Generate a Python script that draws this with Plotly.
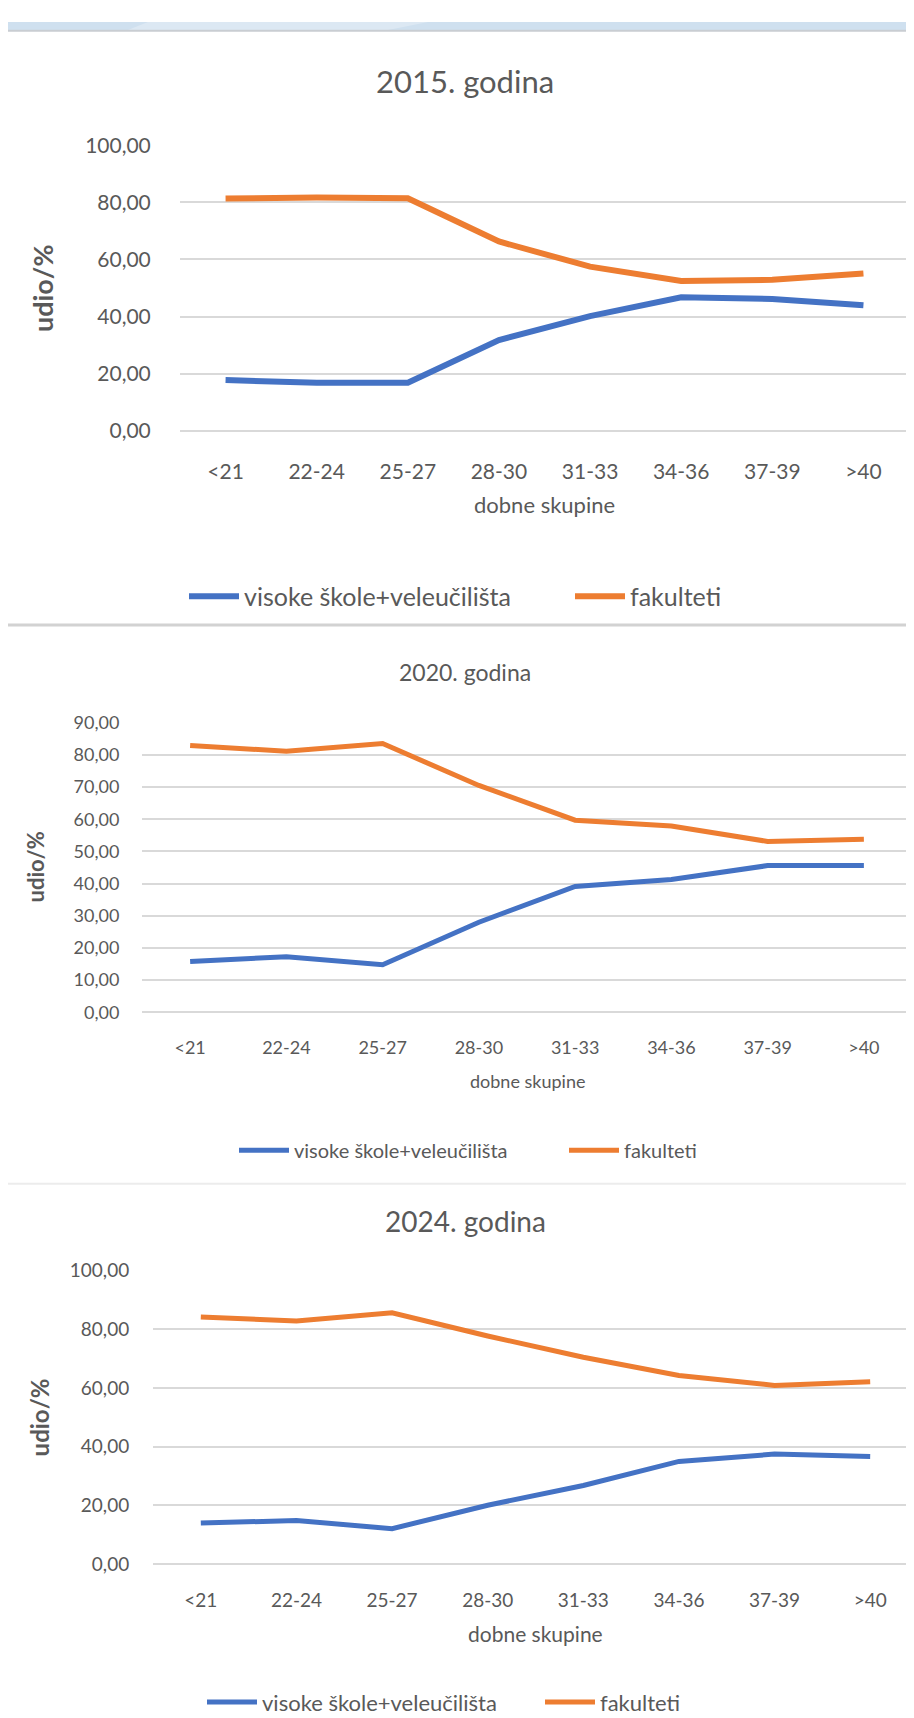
import plotly.graph_objects as go

W, H = 914, 1718

categories = ["<21", "22-24", "25-27", "28-30", "31-33", "34-36", "37-39", ">40"]
chart_titles = ["2015. godina", "2020. godina", "2024. godina"]
series_names = ["visoke škole+veleučilišta", "fakulteti"]
x_title = "dobne skupine"
y_title = "udio/%"

visoke_2015 = [17.8, 16.9, 16.9, 31.8, 40.2, 46.8, 46.2, 44.0]
fakulteti_2015 = [81.3, 81.7, 81.4, 66.3, 57.5, 52.5, 52.9, 55.1]
visoke_2020 = [15.8, 17.3, 14.8, 28.0, 39.1, 41.3, 45.6, 45.6]
fakulteti_2020 = [82.9, 81.1, 83.5, 70.5, 59.7, 57.9, 53.1, 53.8]
visoke_2024 = [14.0, 14.9, 12.1, 20.1, 26.8, 35.0, 37.5, 36.7]
fakulteti_2024 = [84.2, 82.8, 85.6, 77.7, 70.5, 64.3, 60.9, 62.1]

y_max = [100, 90, 100]
y_step = [20, 10, 20]

BLUE = "#4472C4"
ORANGE = "#ED7D31"
TEXT = "#595959"
GRID = "#d9d9d9"
FONT = "Lato"

# layout geometry in pixels
panels = [
    dict(x0=172, x1=901, y0=125, y1=415, title_y=60, title_size=31, tick_size=21,
         xt_size=22, xt_y=490, yt_x=34, yt_size=27, xticklen=22, yticklen=24, lw=6,
         leg_y=583, leg1_x=176, leg2_x=562, leg_size=25),
    dict(x0=134, x1=904, y0=711, y1=1005, title_y=660, title_size=23, tick_size=18,
         xt_size=18, xt_y=1075, yt_x=28, yt_size=22, xticklen=19, yticklen=18, lw=5,
         leg_y=1145, leg1_x=226, leg2_x=556, leg_size=20),
    dict(x0=145, x1=910, y0=1267, y1=1565, title_y=1217, title_size=28, tick_size=19,
         xt_size=21, xt_y=1635, yt_x=31, yt_size=24, xticklen=19, yticklen=19, lw=5,
         leg_y=1705, leg1_x=194, leg2_x=532, leg_size=22),
]

data = [(visoke_2015, fakulteti_2015), (visoke_2020, fakulteti_2020), (visoke_2024, fakulteti_2024)]


def px(x):
    return x / W


def py(y):
    return 1 - y / H


fig = go.Figure()
annotations = []
shapes = []
layout_extra = {}

for i, (p, (vis, fak)) in enumerate(zip(panels, data)):
    n = i + 1
    xa = "x" if n == 1 else f"x{n}"
    ya = "y" if n == 1 else f"y{n}"
    leg_a = "legend" if n == 1 else f"legend{2 * n - 1}"
    leg_b = f"legend{2 * n}"
    fig.add_trace(go.Scatter(x=categories, y=vis, mode="lines", name=series_names[0],
                             line=dict(color=BLUE, width=p["lw"]), xaxis=xa, yaxis=ya,
                             legend=leg_a, hoverinfo="skip"))
    fig.add_trace(go.Scatter(x=categories, y=fak, mode="lines", name=series_names[1],
                             line=dict(color=ORANGE, width=p["lw"]), xaxis=xa, yaxis=ya,
                             legend=leg_b, hoverinfo="skip"))
    xkey = "xaxis" if n == 1 else f"xaxis{n}"
    ykey = "yaxis" if n == 1 else f"yaxis{n}"
    layout_extra[xkey] = dict(
        domain=[px(p["x0"]), px(p["x1"])], anchor=ya, type="category",
        categoryorder="array", categoryarray=categories, range=[-0.5, len(categories) - 0.5],
        showgrid=False, zeroline=False, showline=False, ticks="outside",
        ticklen=p["xticklen"], tickcolor="rgba(0,0,0,0)",
        tickfont=dict(family=FONT, size=p["tick_size"], color=TEXT), fixedrange=True)
    layout_extra[ykey] = dict(
        domain=[py(p["y1"]), py(p["y0"])], anchor=xa, range=[0, y_max[i]],
        tick0=0, dtick=y_step[i], tickformat=".2f", showgrid=True, gridcolor=GRID,
        gridwidth=1.6, zeroline=True, zerolinecolor=GRID, zerolinewidth=1.6,
        showline=False, ticks="outside", ticklen=p["yticklen"], tickcolor="rgba(0,0,0,0)",
        tickfont=dict(family=FONT, size=p["tick_size"], color=TEXT), fixedrange=True)
    for lk, lx in ((leg_a, p["leg1_x"]), (leg_b, p["leg2_x"])):
        layout_extra[lk] = dict(orientation="h", x=px(lx), xanchor="left", y=py(p["leg_y"]),
                                yanchor="middle", bgcolor="rgba(0,0,0,0)", borderwidth=0,
                                itemwidth=50, font=dict(family=FONT, size=p["leg_size"], color=TEXT))
    # chart title
    annotations.append(dict(text=chart_titles[i], x=px(457), y=py(p["title_y"]),
                            xref="paper", yref="paper", xanchor="center", yanchor="middle",
                            showarrow=False, font=dict(family=FONT, size=p["title_size"], color=TEXT)))
    # x-axis title
    annotations.append(dict(text=x_title, x=px((p["x0"] + p["x1"]) / 2), y=py(p["xt_y"]),
                            xref="paper", yref="paper", xanchor="center", yanchor="middle",
                            showarrow=False, font=dict(family=FONT, size=p["xt_size"], color=TEXT)))
    # y-axis title
    annotations.append(dict(text="<b>" + y_title + "</b>", x=px(p["yt_x"]), y=py((p["y0"] + p["y1"]) / 2),
                            xref="paper", yref="paper", xanchor="center", yanchor="middle",
                            textangle=-90, showarrow=False,
                            font=dict(family=FONT, size=p["yt_size"], color=TEXT)))

# page decorations: top banner and separators
shapes.append(dict(type="rect", xref="paper", yref="paper", x0=0, x1=1, y0=py(8), y1=1,
                   fillcolor="#cfe0ef", line=dict(width=0), layer="below"))
shapes.append(dict(type="path", xref="paper", yref="paper",
                   path=f"M {px(120)},{py(8)} L {px(140)},1 L {px(420)},1 L {px(380)},{py(8)} Z",
                   fillcolor="#dce8f3", line=dict(width=0), layer="below"))
shapes.append(dict(type="line", xref="paper", yref="paper", x0=0, x1=1, y0=py(9), y1=py(9),
                   line=dict(color="#c9cdd2", width=2)))
shapes.append(dict(type="line", xref="paper", yref="paper", x0=0, x1=1, y0=py(612), y1=py(612),
                   line=dict(color="#d2d2d2", width=3)))
shapes.append(dict(type="line", xref="paper", yref="paper", x0=0, x1=1, y0=py(1179), y1=py(1179),
                   line=dict(color="#ececec", width=2)))

fig.update_layout(
    width=W, height=H, margin=dict(l=0, r=0, t=0, b=0),
    paper_bgcolor="white", plot_bgcolor="white",
    separators=",.", showlegend=True,
    annotations=annotations, shapes=shapes,
    font=dict(family=FONT, color=TEXT),
    **layout_extra,
)

fig.write_html("out.html", config={"displayModeBar": False})
